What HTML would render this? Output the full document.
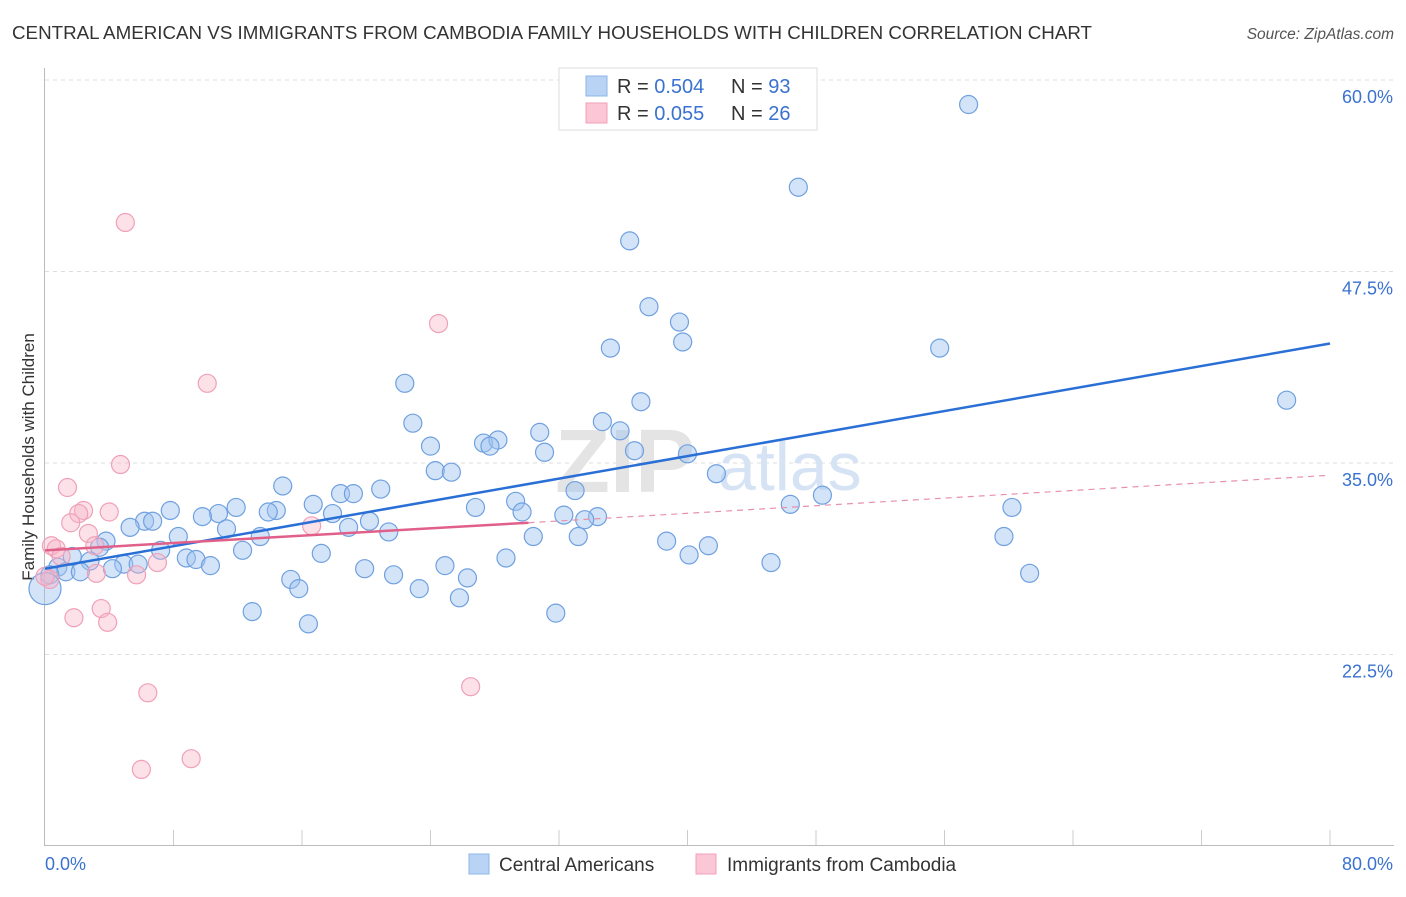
<!DOCTYPE html>
<html><head><meta charset="utf-8"><style>
body{margin:0;background:#fff;font-family:"Liberation Sans",sans-serif}
svg text{font-family:"Liberation Sans",sans-serif}
</style></head><body>
<svg id="chart" width="1406" height="892" xmlns="http://www.w3.org/2000/svg">
<text x="12" y="39" font-size="18" fill="#333" textLength="1080" lengthAdjust="spacingAndGlyphs">CENTRAL AMERICAN VS IMMIGRANTS FROM CAMBODIA FAMILY HOUSEHOLDS WITH CHILDREN CORRELATION CHART</text>
<text x="1394" y="39" font-size="15.5" fill="#555" font-style="italic" text-anchor="end">Source: ZipAtlas.com</text>
<text transform="translate(34,457) rotate(-90)" font-size="17" fill="#333" text-anchor="middle">Family Households with Children</text>
<g id="grid"></g>
<text x="555" y="492" font-size="90" fill="#e4e4e4" font-weight="bold" font-family="Liberation Serif">ZIP</text>
<text x="718" y="490" font-size="68" fill="#d5e3f5">atlas</text>
<g id="points"></g>
<g id="lines"></g>
<g>
<rect x="559" y="68" width="258" height="62" fill="#fff" stroke="#ddd"/>
<rect x="586" y="76" width="21" height="20" fill="#b9d3f5" stroke="#8db4e8"/>
<rect x="586" y="103" width="21" height="20" fill="#fbc6d6" stroke="#f0a0b8"/>
<text x="617" y="93" font-size="20" fill="#333">R = <tspan fill="#3a72d0">0.504</tspan></text>
<text x="731" y="93" font-size="20" fill="#333">N = <tspan fill="#3a72d0">93</tspan></text>
<text x="617" y="120" font-size="20" fill="#333">R = <tspan fill="#3a72d0">0.055</tspan></text>
<text x="731" y="120" font-size="20" fill="#333">N = <tspan fill="#3a72d0">26</tspan></text>
</g>
<g>
<rect x="469" y="854" width="20" height="20" fill="#b9d3f5" stroke="#8db4e8"/>
<text x="499" y="871" font-size="19" fill="#333">Central Americans</text>
<rect x="696" y="854" width="20" height="20" fill="#fbc6d6" stroke="#f0a0b8"/>
<text x="727" y="871" font-size="19" fill="#333">Immigrants from Cambodia</text>
</g>
</svg>
<script>
const yTicks=[60,47.5,35,22.5];
const xTickLabels=["0.0%","80.0%"];
const blueX=[57.5,46.9,36.4,37.6,39.5,39.7,35.2,55.7,77.3,22.4,37.1,22.9,34.7,35.8,30.8,24.0,27.3,28.2,27.7,31.1,36.7,40.0,24.3,25.3,41.8,14.8,33.0,48.4,20.9,18.4,19.2,29.3,60.2,46.4,11.9,7.8,16.7,26.8,10.8,14.4,13.9,9.8,17.9,29.7,32.3,34.4,33.6,20.2,6.2,6.7,5.3,18.9,11.3,21.4,8.3,13.4,30.4,33.2,59.7,3.8,38.7,3.4,41.3,12.3,7.2,17.2,40.1,28.7,8.8,9.4,1.7,2.8,10.3,45.2,4.9,5.8,4.2,19.9,24.9,0.8,1.3,2.2,0.3,61.3,21.7,15.3,26.3,15.8,23.3,25.8,0,12.9,31.8,16.4];
const blueY=[58.4,53.0,49.5,45.2,44.2,42.9,42.5,42.5,39.1,40.2,39.0,37.6,37.7,37.1,37.0,36.1,36.3,36.5,36.1,35.7,35.8,35.6,34.5,34.4,34.3,33.5,33.2,32.9,33.3,33.0,33.0,32.5,32.1,32.3,32.1,31.9,32.3,32.1,31.7,31.9,31.8,31.5,31.7,31.8,31.6,31.5,31.3,31.2,31.2,31.2,30.8,30.8,30.7,30.5,30.2,30.2,30.2,30.2,30.2,29.9,29.9,29.5,29.6,29.3,29.3,29.1,29.0,28.8,28.8,28.7,28.9,28.6,28.3,28.5,28.4,28.4,28.1,28.1,28.3,28.2,27.9,27.9,27.7,27.8,27.7,27.4,27.5,26.8,26.8,26.2,26.8,25.3,25.2,24.5];
const pinkX=[5.0,24.5,10.1,4.7,1.4,2.4,2.1,4.0,1.6,2.7,16.6,0.4,0.7,3.1,1.0,7.0,5.7,3.2,0.3,0,3.5,1.8,3.9,6.4,26.5,9.1,6.0];
const pinkY=[50.7,44.1,40.2,34.9,33.4,31.9,31.7,31.8,31.1,30.4,30.9,29.6,29.4,29.6,28.9,28.5,27.7,27.8,27.4,27.6,25.5,24.9,24.6,20.0,20.4,15.7,15.0];
const blueTrend=[[0,28.1],[80,42.8]];
const pinkTrend=[[0,29.3],[30.1,31.1],[80,34.2]];
const X=v=>45+v/80*1285, Y=v=>80+(60-v)*15.32;
const NS="http://www.w3.org/2000/svg";
function mk(t,a,p){const e=document.createElementNS(NS,t);for(const k in a)e.setAttribute(k,a[k]);p.appendChild(e);return e;}
const g=document.getElementById('grid');
yTicks.forEach(t=>{
 const l=mk('line',{x1:45,y1:Y(t),x2:1394,y2:Y(t),stroke:'#ddd','stroke-dasharray':'4,4'},g);
 
 
 const tx=mk('text',{x:1393,y:Y(t)+23,'font-size':18,fill:'#3a72d0','text-anchor':'end'},g);
 tx.textContent=t.toFixed(1)+'%';
 
 
});
mk('line',{x1:44.5,y1:68,x2:44.5,y2:845,stroke:'#bbb'},g);
mk('line',{x1:44,y1:845.5,x2:1394,y2:845.5,stroke:'#bbb'},g);
for(let i=1;i<=10;i++){mk('line',{x1:X(i*8),y1:830,x2:X(i*8),y2:845,stroke:'#ccc'},g);}
[[0,45,'start'],[80,1393,'end']].forEach((d,i)=>{
 const tx=mk('text',{x:d[1],y:870,'font-size':18,fill:'#3a72d0','text-anchor':d[2]},g);
 tx.textContent=xTickLabels[i];
 
 
});
const pg=document.getElementById('points');
blueX.forEach((x,i)=>{
 const c=mk('circle',{cx:X(x),cy:Y(blueY[i]),r:(x===0?16:9),fill:'rgba(160,196,240,0.45)',stroke:'#6fa0e0','stroke-width':1.2},pg);
 
 
});
pinkX.forEach((x,i)=>{
 const c=mk('circle',{cx:X(x),cy:Y(pinkY[i]),r:9,fill:'rgba(248,180,200,0.4)',stroke:'#f0a0b8','stroke-width':1.2},pg);
 
 
});
const lg=document.getElementById('lines');
const bl=mk('line',{x1:X(blueTrend[0][0]),y1:Y(blueTrend[0][1]),x2:X(blueTrend[1][0]),y2:Y(blueTrend[1][1]),stroke:'#2a6fd6','stroke-width':2.5},lg);


const pl=mk('line',{x1:X(pinkTrend[0][0]),y1:Y(pinkTrend[0][1]),x2:X(pinkTrend[1][0]),y2:Y(pinkTrend[1][1]),stroke:'#e0608a','stroke-width':2.5},lg);


const pd=mk('line',{x1:X(pinkTrend[1][0]),y1:Y(pinkTrend[1][1]),x2:X(pinkTrend[2][0]),y2:Y(pinkTrend[2][1]),stroke:'#e890ab','stroke-width':1.2,'stroke-dasharray':'6,5'},lg);


</script>
</body></html>
